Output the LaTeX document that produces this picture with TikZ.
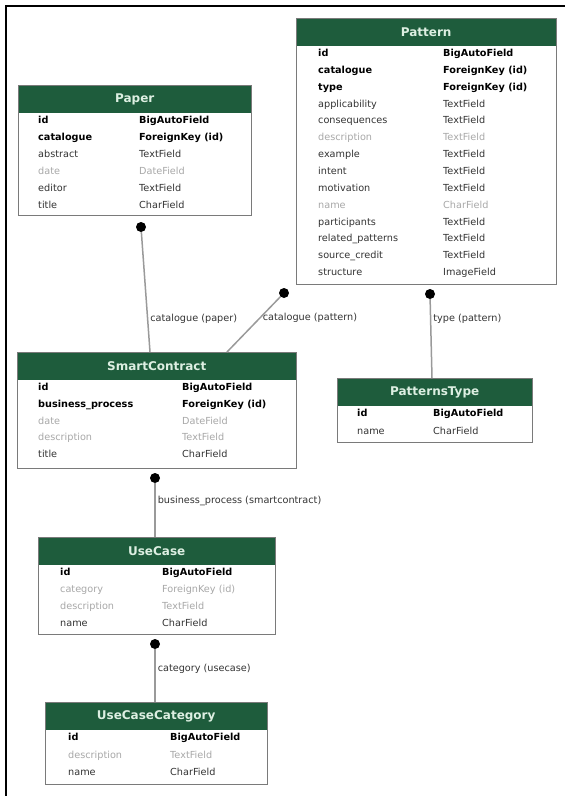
\documentclass[tikz,border=0pt]{standalone}
\usepackage{fontspec}
\setmainfont{DejaVu Sans}
\usetikzlibrary{calc}

\definecolor{headgreen}{HTML}{1E5C3C}
\definecolor{headtext}{HTML}{DDEFE2}
\definecolor{fadedgray}{HTML}{A8A8A8}
\definecolor{boxgray}{HTML}{7A7A7A}
\definecolor{linkgray}{HTML}{9A9A9A}

\tikzset{
        tablebox/.style={draw=boxgray, line width=1.2pt, fill=white, rectangle, anchor=north west, inner sep=0},
        tablehead/.style={fill=headgreen, text=headtext, font=\bfseries\fontsize{12}{14}\selectfont, anchor=north west, minimum height=27pt, inner sep=0},
        field/.style={anchor=base west, inner sep=0, font=\fontsize{9.7}{11}\selectfont},
        fkdot/.style={circle, fill=black, minimum size=10pt, inner sep=0},
        link/.style={draw=linkgray, line width=1.5pt},
        linklabel/.style={right, inner sep=2pt, font=\fontsize{9.7}{11}\selectfont, text=black!80}
}

\begin{document}
\begin{tikzpicture}[x=1pt, y=-1pt]
        \useasboundingbox (0,0) rectangle (565,796);
        \draw[line width=2.5pt] (6,796) -- (6,6) -- (565,6);

        % tables
        \node[tablebox, minimum width=260pt, minimum height=266pt] (pattern) at (296,18) {};
        \node[tablehead, minimum width=258.8pt] (patternhead) at ($(pattern.north west)+(0.6,0.6)$) {Pattern};
        \foreach \fname/\ftype/\fc/\fw [count=\i from 0] in {id/BigAutoField/black/\bfseries, catalogue/ForeignKey (id)/black/\bfseries, type/ForeignKey (id)/black/\bfseries, applicability/TextField/black!80/\mdseries, consequences/TextField/black!80/\mdseries, description/TextField/fadedgray/\mdseries, example/TextField/black!80/\mdseries, intent/TextField/black!80/\mdseries, motivation/TextField/black!80/\mdseries, name/CharField/fadedgray/\mdseries, participants/TextField/black!80/\mdseries, related\_patterns/TextField/black!80/\mdseries, source\_credit/TextField/black!80/\mdseries, structure/ImageField/black!80/\mdseries} {
                \node[field, text=\fc] at ($(pattern.north west)+(22,38.5+16.85*\i)$) {\fw\fname};
                \node[field, text=\fc] at ($(pattern.north west)+(147,38.5+16.85*\i)$) {\fw\ftype};
        }

        \node[tablebox, minimum width=233pt, minimum height=130pt] (paper) at (18,85) {};
        \node[tablehead, minimum width=231.8pt] (paperhead) at ($(paper.north west)+(0.6,0.6)$) {Paper};
        \foreach \fname/\ftype/\fc/\fw [count=\i from 0] in {id/BigAutoField/black/\bfseries, catalogue/ForeignKey (id)/black/\bfseries, abstract/TextField/black!80/\mdseries, date/DateField/fadedgray/\mdseries, editor/TextField/black!80/\mdseries, title/CharField/black!80/\mdseries} {
                \node[field, text=\fc] at ($(paper.north west)+(20,38.5+17*\i)$) {\fw\fname};
                \node[field, text=\fc] at ($(paper.north west)+(121,38.5+17*\i)$) {\fw\ftype};
        }

        \node[tablebox, minimum width=279pt, minimum height=116pt] (smartcontract) at (17,352) {};
        \node[tablehead, minimum width=277.8pt] (smartcontracthead) at ($(smartcontract.north west)+(0.6,0.6)$) {SmartContract};
        \foreach \fname/\ftype/\fc/\fw [count=\i from 0] in {id/BigAutoField/black/\bfseries, business\_process/ForeignKey (id)/black/\bfseries, date/DateField/fadedgray/\mdseries, description/TextField/fadedgray/\mdseries, title/CharField/black!80/\mdseries} {
                \node[field, text=\fc] at ($(smartcontract.north west)+(21,38.5+16.8*\i)$) {\fw\fname};
                \node[field, text=\fc] at ($(smartcontract.north west)+(165,38.5+16.8*\i)$) {\fw\ftype};
        }

        \node[tablebox, minimum width=195pt, minimum height=64pt] (patternstype) at (337,378) {};
        \node[tablehead, minimum width=193.8pt] (patternstypehead) at ($(patternstype.north west)+(0.6,0.6)$) {PatternsType};
        \foreach \fname/\ftype/\fc/\fw [count=\i from 0] in {id/BigAutoField/black/\bfseries, name/CharField/black!80/\mdseries} {
                \node[field, text=\fc] at ($(patternstype.north west)+(20,38.5+17.5*\i)$) {\fw\fname};
                \node[field, text=\fc] at ($(patternstype.north west)+(96,38.5+17.5*\i)$) {\fw\ftype};
        }

        \node[tablebox, minimum width=237pt, minimum height=97pt] (usecase) at (38,537) {};
        \node[tablehead, minimum width=235.8pt] (usecasehead) at ($(usecase.north west)+(0.6,0.6)$) {UseCase};
        \foreach \fname/\ftype/\fc/\fw [count=\i from 0] in {id/BigAutoField/black/\bfseries, category/ForeignKey (id)/fadedgray/\mdseries, description/TextField/fadedgray/\mdseries, name/CharField/black!80/\mdseries} {
                \node[field, text=\fc] at ($(usecase.north west)+(22,38.5+17*\i)$) {\fw\fname};
                \node[field, text=\fc] at ($(usecase.north west)+(124,38.5+17*\i)$) {\fw\ftype};
        }

        \node[tablebox, minimum width=222pt, minimum height=82pt] (usecasecategory) at (45,702) {};
        \node[tablehead, minimum width=220.8pt] (usecasecategoryhead) at ($(usecasecategory.north west)+(0.6,0.6)$) {UseCaseCategory};
        \foreach \fname/\ftype/\fc/\fw [count=\i from 0] in {id/BigAutoField/black/\bfseries, description/TextField/fadedgray/\mdseries, name/CharField/black!80/\mdseries} {
                \node[field, text=\fc] at ($(usecasecategory.north west)+(23,38.5+17.5*\i)$) {\fw\fname};
                \node[field, text=\fc] at ($(usecasecategory.north west)+(125,38.5+17.5*\i)$) {\fw\ftype};
        }

        % foreign keys
        \node[fkdot] (paperdot) at (141,227) {};
        \node[fkdot] (patterndot) at (284,293) {};
        \node[fkdot] (typedot) at (430,294) {};
        \node[fkdot] (smartcontractdot) at (155,478) {};
        \node[fkdot] (usecasedot) at (155,644) {};

        \coordinate (scpaper) at (150,352);
        \coordinate (scpattern) at (227,352);
        \coordinate (pttype) at (432,378);
        \coordinate (ucsc) at (155,537);
        \coordinate (uccuc) at (155,702);

        \path[link] (paperdot) -- node[linklabel, pos=0.72] {catalogue (paper)} (scpaper);
        \path[link] (patterndot) -- node[linklabel, pos=0.38] {catalogue (pattern)} (scpattern);
        \path[link] (typedot) -- node[linklabel, pos=0.25] {type (pattern)} (pttype);
        \path[link] (smartcontractdot) -- node[linklabel, pos=0.33] {business\_process (smartcontract)} (ucsc);
        \path[link] (usecasedot) -- node[linklabel, pos=0.38] {category (usecase)} (uccuc);
\end{tikzpicture}
\end{document}
